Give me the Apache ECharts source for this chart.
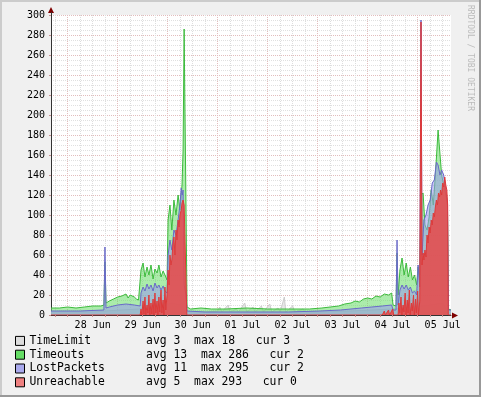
<!DOCTYPE html>
<html>
<head>
<meta charset="utf-8">
<script src="https://cdn.jsdelivr.net/npm/echarts@6/dist/echarts.min.js"></script>
<style>
  html, body { margin: 0; padding: 0; background: #F0F0F0; }
  #chart { width: 481px; height: 397px; }
</style>
</head>
<body>
<div id="chart"></div>
<script>
// x values are hours counted from 27 Jun 00:00
var dayLabels = ['28 Jun', '29 Jun', '30 Jun', '01 Jul', '02 Jul', '03 Jul', '04 Jul', '05 Jul'];
var yTicks = [0, 20, 40, 60, 80, 100, 120, 140, 160, 180, 200, 220, 240, 260, 280, 300];

var names = ['TimeLimit', 'Timeouts', 'LostPackets', 'Unreachable'];
var avgs = [3, 13, 11, 5];
var maxs = [18, 286, 295, 293];
var curs = [3, 2, 2, 0];

var timeLimit = [
  [16,3],[26,3],[36,3],[42,4],[50,5],[58,6],[62,8],[66,6],[70,9],[74,12],[78,10],[80,14],[81.3,3],
  [90,3],[96,4],[97,8],[98,3],[101,10],[102,3],[105,6],[106,3],[109,12],[110,3],[113,8],[114,3],
  [117,9],[118,3],[121,11],[122,3],[125,7],[126,3],[128,18],[128.7,3],[132,9],[133,3],[137,6],[138,3],
  [145,3],[160,4],[170,5],[180,6],[190,8],[198,10],[204,12],[206.6,3],[208,3]
];

var timeouts = [
  [16,7],[20,7],[24,8],[28,7],[32,8],[36,9],[40,9],[41.4,10],[41.9,53],[42.4,12],
  [44,14],[46,16],[48,18],[50,19],[52,21],[53,17],[54,20],[56,18],[57,16],[58,15],[58.8,13],
  [59.2,45],[60.2,52],[61.1,38],[62.1,48],[63,40],[64,50],[65,36],[65.9,46],[66.9,42],[67.8,50],
  [68.8,38],[69.8,44],[70.7,40],[71.7,35],
  [72.2,95],[73.1,110],[74,85],[75,115],[76,100],[77,120],[77.9,105],[78.9,130],[79.4,165],
  [79.9,286],[80.8,286],[81.3,8],
  [83,6],[88,7],[93,6],[100,6],[110,7],[120,6],[130,6],[140,6],[146,7],[150,8],[154,9],[157,11],
  [160,12],[162,14],[164,13],[166,16],[168,17],[170,16],[172,19],[174,18],[176,21],[178,20],
  [179.5,22],[180.2,10],[181.6,9],
  [182.1,62],[182.6,20],[183.5,45],[184.5,57],[185.5,40],[186.5,52],[187.5,38],[188.5,48],
  [189.5,35],[190.5,40],[191.5,30],[192.2,48],[193,35],
  [193.6,120],[194.6,122],[195.5,90],[196.5,85],[197.5,98],[198.5,125],[199.5,110],[200.5,140],
  [201.8,185],[202.7,185],[203.5,140],[204.5,130],[205.5,120],[206.3,110],[206.8,6],[208,5]
];

var lostPackets = [
  [16,4],[30,4],[41.4,5],[41.9,68],[42.4,7],[44,8],[48,10],[52,11],[56,10],[58.8,9],
  [59.2,22],[60.2,28],[61.1,24],[62.1,31],[63,26],[64,30],[65,24],[65.9,32],[66.9,27],[67.8,30],
  [68.8,25],[69.8,29],[70.7,24],[71.7,22],
  [72.2,60],[73.1,75],[74,65],[75,85],[76,80],[77,95],[77.9,110],[78.5,127],[79,120],[79.4,125],
  [79.9,30],[80.8,20],[81.3,4],
  [90,3],[110,3],[130,3],[145,4],[155,5],[160,6],[165,7],[170,8],[175,9],[179.5,10],[180.2,5],[181.6,5],
  [182.1,75],[182.6,10],[183.5,25],[184.5,30],[185.5,26],[186.5,30],[187.5,25],[188.5,28],
  [189.5,22],[190.5,24],[191.5,20],[192.2,50],[193,28],
  [193.6,295],[194.1,60],[195,95],[196,100],[197,110],[198,115],[199,132],[200,135],[201,153],
  [201.8,150],[202.7,140],[203.5,145],[204.5,140],[205.5,125],[206.3,110],[206.8,5],[208,5]
];

var unreachable = [
  [16,0],[58.8,0],[59.2,6],[59.6,0],[60.2,14],[60.6,1],[61.1,18],[61.5,0],[62.1,10],[62.5,2],
  [63,20],[63.4,0],[64,12],[64.4,1],[65,16],[65.4,0],[65.9,22],[66.3,2],[66.9,14],[67.3,0],
  [67.8,18],[68.2,3],[68.8,25],[69.2,2],[69.8,15],[70.2,0],[70.7,28],[71.1,5],[71.7,20],
  [72.2,45],[72.7,30],[73.1,60],[73.6,50],[74,55],[74.5,70],[75,78],[75.5,60],[76,85],[76.5,75],
  [77,95],[77.5,88],[77.9,100],[78.5,105],[78.9,112],[79.4,115],[79.9,110],[80.8,108],[81.2,0],
  [175,0],[176,4],[176.5,0],[178,5],[178.5,0],[180,6],[180.5,0],
  [182.6,0],[183,12],[183.4,2],[184,18],[184.4,0],[185,10],[185.4,3],[186,22],[186.4,0],[187,15],
  [187.4,2],[188,25],[188.4,0],[189,12],[189.4,4],[190,20],[190.4,0],[191,16],[191.4,2],[192,24],
  [192.4,0],[193,14],
  [193.6,293],[194.1,50],[194.6,62],[195,55],[195.5,65],[196,58],[196.5,80],[197,72],[197.5,88],
  [198,82],[198.5,95],[199,90],[199.5,102],[200,98],[200.5,108],[201,115],[201.5,110],[202,122],
  [202.5,118],[203,125],[203.5,120],[204,132],[204.5,128],[205,138],[205.5,130],[206,125],
  [206.4,110],[206.7,0],[208,0]
];

var mono = 'DejaVu Sans Mono';
var boxColors = ['#DDDDDD', '#66DD66', '#AAAAEE', '#EE8080'];

// grid every 6h, labels at noon
var gridHours = [];
for (var h = 18; h <= 204; h += 6) gridHours.push(h);
var labelHours = dayLabels.map(function (d, i) { return 36 + i * 24; });

function legendText(i) {
  var s = names[i];
  while (s.length < 17) s += ' ';
  return s + 'avg ' + avgs[i] + '  max ' + maxs[i] + '   cur ' + curs[i];
}

function mk(i, data, line, area, op) {
  return {
    name: names[i], type: 'line', data: data, symbol: 'none', showSymbol: false,
    silent: true, z: 2 + i,
    lineStyle: { width: 1, color: line },
    itemStyle: { color: line },
    areaStyle: { color: area, opacity: op }
  };
}

var chart = echarts.init(document.getElementById('chart'));
chart.setOption({
  animation: false,
  backgroundColor: '#F0F0F0',
  textStyle: { fontFamily: mono },
  grid: { left: 51, top: 15, width: 400, height: 300, show: true, backgroundColor: '#FFFFFF', borderWidth: 0 },
  legend: {
    orient: 'vertical', left: 15, top: 334, padding: 0, itemGap: 0,
    itemWidth: 9, itemHeight: 9, icon: 'rect', selectedMode: false,
    textStyle: { fontFamily: mono, fontSize: 11.4, color: '#000', lineHeight: 13.8 },
    data: names.map(function (n, i) {
      return { name: n, itemStyle: { color: boxColors[i], borderColor: '#000', borderWidth: 1 } };
    }),
    formatter: function (n) { return legendText(names.indexOf(n)); }
  },
  xAxis: {
    type: 'value', min: 16, max: 208,
    axisLine: { show: true, onZero: false, lineStyle: { color: '#333' } },
    axisTick: { show: true, customValues: gridHours, length: 2, lineStyle: { color: '#C89090' } },
    axisLabel: {
      customValues: labelHours, fontFamily: mono, fontSize: 10, color: '#000', margin: 5,
      formatter: function (v) { return dayLabels[labelHours.indexOf(v)]; }
    },
    splitLine: { show: true, lineStyle: { color: ['#DDDDDD', '#E2BDBD', '#DDDDDD', '#DDDDDD'], type: [1, 1] } }
  },
  yAxis: {
    type: 'value', min: 0, max: 300, interval: 20,
    axisLine: { show: true, lineStyle: { color: '#333' } },
    axisTick: { show: true, length: 2, lineStyle: { color: '#C89090' } },
    axisLabel: { fontFamily: mono, fontSize: 10, color: '#000', margin: 6 },
    splitLine: { show: true, lineStyle: { color: '#E2BDBD', type: [1, 1] } },
    minorTick: { show: false, splitNumber: 4 },
    minorSplitLine: { show: true, lineStyle: { color: '#E0E0E0', type: [1, 1] } }
  },
  series: [
    mk(0, timeLimit, '#CCCCCC', '#E2E2E2', 0.8),
    mk(1, timeouts, '#3DBB3D', '#66DD66', 0.55),
    mk(2, lostPackets, '#6A6AC8', '#9999EE', 0.55),
    mk(3, unreachable, '#DD3A3A', '#E84848', 0.85)
  ],
  graphic: [
    { type: 'rect', shape: { x: 0, y: 0, width: 481, height: 2 }, style: { fill: '#CCCCCC' }, silent: true },
    { type: 'rect', shape: { x: 0, y: 0, width: 2, height: 397 }, style: { fill: '#CCCCCC' }, silent: true },
    { type: 'rect', shape: { x: 0, y: 395, width: 481, height: 2 }, style: { fill: '#999999' }, silent: true },
    { type: 'rect', shape: { x: 479, y: 0, width: 2, height: 397 }, style: { fill: '#999999' }, silent: true },
    { type: 'polygon', shape: { points: [[51, 7], [48, 13], [54, 13]] }, style: { fill: '#7F0000' }, silent: true, z: 100 },
    { type: 'line', shape: { x1: 51.5, y1: 15, x2: 51.5, y2: 12 }, style: { stroke: '#333', lineWidth: 1 }, silent: true, z: 100 },
    { type: 'polygon', shape: { points: [[458, 315.5], [452, 312.5], [452, 318.5]] }, style: { fill: '#7F0000' }, silent: true, z: 100 },
    {
      type: 'text', x: 470.5, y: 5, rotation: -Math.PI / 2, silent: true,
      style: { text: 'RRDTOOL / TOBI OETIKER', font: '8px ' + mono, fill: '#BBBBBB', textVerticalAlign: 'middle' }
    }
  ]
});
</script>
</body>
</html>
